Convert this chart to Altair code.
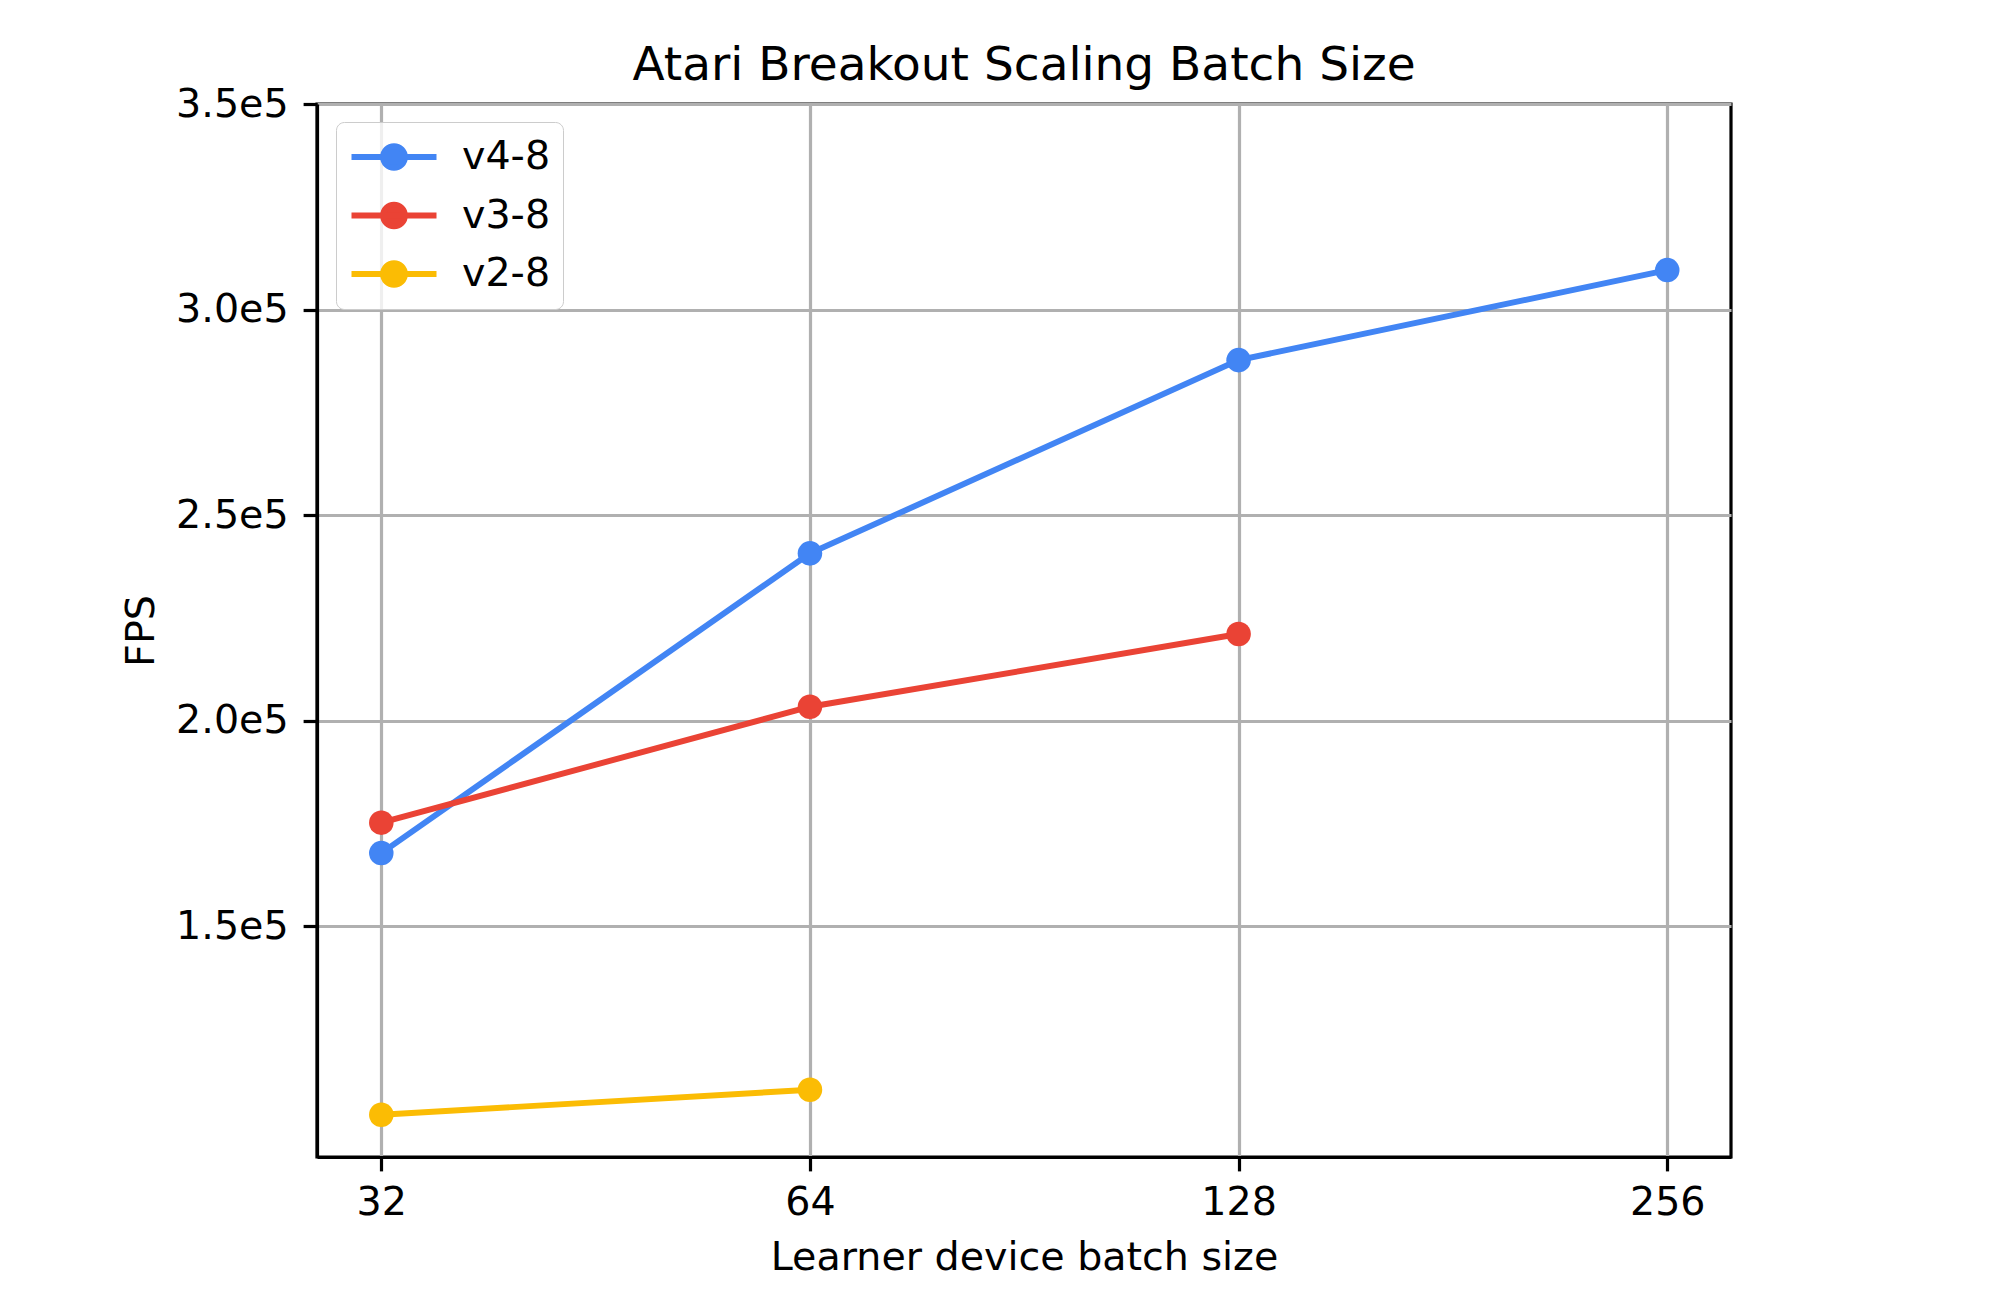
import altair as alt
import pandas as pd

# ---- data ----
series_names = ["v4-8", "v3-8", "v2-8"]
series_colors = ["#4285F4", "#EA4335", "#FBBC04"]

batch_v4 = [32, 64, 128, 256]
fps_v4 = [167800, 240700, 287700, 309600]

batch_v3 = [32, 64, 128]
fps_v3 = [175200, 203400, 221100]

batch_v2 = [32, 64]
fps_v2 = [104150, 110240]

x_ticks = [32, 64, 128, 256]
y_ticks = [150000, 200000, 250000, 300000, 350000]

rows = []
for name, xs, ys in [("v4-8", batch_v4, fps_v4), ("v3-8", batch_v3, fps_v3), ("v2-8", batch_v2, fps_v2)]:
    for xv, yv in zip(xs, ys):
        rows.append({"series": name, "batch": xv, "fps": yv})
df = pd.DataFrame(rows)

FONT = "DejaVu Sans"
TICK_FS = 39.6
LW = 5.94
SPINE = 3.2

x_enc = alt.X(
    "batch:Q",
    scale=alt.Scale(type="log", base=2, domain=[28.84, 283.8], nice=False, zero=False),
    axis=alt.Axis(
        values=x_ticks,
        format="d",
        title="Learner device batch size",
        titlePadding=16,
        labelPadding=13,
    ),
)
y_enc = alt.Y(
    "fps:Q",
    scale=alt.Scale(domain=[93880, 350000], nice=False, zero=False),
    axis=alt.Axis(
        values=y_ticks,
        labelExpr="format(datum.value / 100000, '.1f') + 'e5'",
        title="FPS",
        titlePadding=14,
        labelPadding=15,
    ),
)

color_scale = alt.Scale(domain=series_names, range=series_colors)
legend = alt.Legend(
    title=None,
    orient="none",
    legendX=19,
    legendY=18,
    symbolType="M-2.125,0L2.125,0M-0.545,0A0.545,0.545,0,1,0,0.545,0A0.545,0.545,0,1,0,-0.545,0Z",
    symbolSize=1600,
    symbolStrokeWidth=LW,
    symbolOffset=23,
    labelOffset=45,
    labelFont=FONT,
    labelFontSize=TICK_FS,
    labelColor="black",
    labelLimit=400,
    rowPadding=12.5,
    padding=12,
    strokeColor="#cccccc",
    fillColor="rgba(255,255,255,0.8)",
    cornerRadius=8,
)

base = alt.Chart(df)
lines = base.mark_line(strokeWidth=LW, opacity=1).encode(
    x=x_enc,
    y=y_enc,
    color=alt.Color("series:N", scale=color_scale, legend=legend, sort=series_names),
    detail="series:N",
)
points = base.mark_circle(size=602, opacity=1).encode(
    x=x_enc,
    y=y_enc,
    color=alt.Color("series:N", scale=color_scale, legend=legend, sort=series_names),
)

chart = (
    alt.layer(lines, points)
    .properties(
        width=1414,
        height=1053,
        title=alt.TitleParams(
            text="Atari Breakout Scaling Batch Size",
            font=FONT,
            fontSize=47,
            fontWeight="normal",
            color="black",
            baseline="alphabetic",
            offset=4,
            dy=47,
            anchor="middle",
            frame="group",
        ),
        autosize=alt.AutoSizeParams(type="none"),
        padding={"left": 309, "top": 96, "right": 261, "bottom": 130},
        background="white",
    )
    .configure_view(stroke="black", strokeWidth=SPINE, fill="white")
    .configure_axis(
        labelFont=FONT,
        labelFontSize=TICK_FS,
        labelColor="black",
        titleFont=FONT,
        titleFontSize=TICK_FS,
        titleFontWeight="normal",
        titleColor="black",
        domainColor="black",
        domainWidth=SPINE,
        tickColor="black",
        tickWidth=SPINE,
        tickSize=13.9,
        grid=True,
        gridColor="#b0b0b0",
        gridWidth=SPINE,
        labelFlush=False,
        labelOverlap=False,
    )
)

chart.save("out.html", embed_options={"renderer": "svg", "actions": False})
